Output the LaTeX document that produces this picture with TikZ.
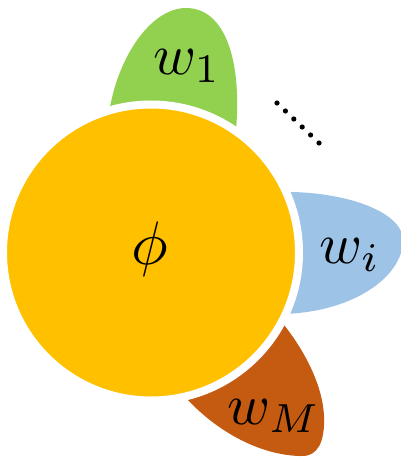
\documentclass[tikz,border=0pt]{standalone}
\definecolor{phiorange}{HTML}{FFC000}
\definecolor{petalgreen}{HTML}{92D050}
\definecolor{petalblue}{HTML}{9DC3E6}
\definecolor{petalbrown}{HTML}{C55A11}
\tikzset{
  biglabel/.style={inner sep=0pt, scale=5.8},
  dotmark/.style={circle, fill=black, inner sep=0pt, minimum size=5.2pt}
}
\begin{document}
\begin{tikzpicture}[x=1pt,y=-1pt]
\useasboundingbox (0,0) rectangle (400,457);
% petals
\fill[petalgreen] (108,120) .. controls (115,60) and (150,8) .. (186,8)
  .. controls (225,8) and (242,60) .. (236,130) -- cycle;
\fill[petalblue] (275,192) .. controls (345,190) and (403,212) .. (403,240)
  .. controls (403,278) and (350,314) .. (278,314) -- cycle;
\fill[petalbrown] (280,320) .. controls (305,350) and (326,390) .. (324,425)
  .. controls (323,450) and (312,457) .. (300,456)
  .. controls (260,455) and (218,432) .. (188,400) -- cycle;
% centre circle
\node[circle, fill=phiorange, draw=white, line width=8pt, inner sep=0pt,
  minimum size=296pt] (core) at (151,252.5) {};
\node[biglabel, scale=1.06] (phi) at (150,249) {$\phi$};
% labels
\node[biglabel] (w1) at (187,66) {$w_1$};
\node[biglabel] (wi) at (350,255) {$w_i$};
\node[biglabel] (wM) at (274,416) {$w_M$};
% dots
\foreach \k in {0,...,5}
  \node[dotmark] (d\k) at ({277+8.4*\k},{103+8*\k}) {};
\end{tikzpicture}
\end{document}
